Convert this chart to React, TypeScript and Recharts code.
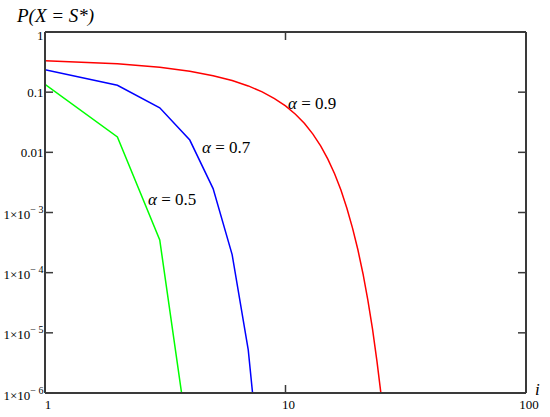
import React from "react";
import { LineChart, Line, XAxis, YAxis, Customized } from "recharts";

// step index i (log axis)
const steps = [1, 2, 3, 4, 5, 6, 7, 8, 9, 10, 11, 12, 13, 14, 15, 16, 17, 18, 19, 20, 21, 22, 23, 24, 25];

// P(X = S*)
const alpha09 = [
  0.333, 0.297, 0.26, 0.223, 0.188, 0.156, 0.127, 0.101, 0.0782, 0.0593, 0.043, 0.0301, 0.0201,
  0.0128, 7.7e-3, 4.4e-3, 2.36e-3, 1.18e-3, 5.5e-4, 2.4e-4, 9.6e-5, 3.5e-5, 1.16e-5, 3.4e-6, 9.0e-7,
];
const alpha07 = [0.236, 0.13, 0.055, 0.016, 2.5e-3, 2.0e-4, 5.2e-6, 2.5e-8];
const alpha05 = [0.135, 0.018, 3.5e-4, 1.1e-7];

const xTicks = [1, 10, 100];
const xTickLabels = ["1", "10", "100"];
const yTicks = [1e-6, 1e-5, 1e-4, 1e-3, 0.01, 0.1, 1];
const yTickLabels: [string, string][] = [
  ["1×10", "− 6"],
  ["1×10", "− 5"],
  ["1×10", "− 4"],
  ["1×10", "− 3"],
  ["0.01", ""],
  ["0.1", ""],
  ["1", ""],
];

const seriesNames = ["0.9", "0.7", "0.5"];

const AXIS = "#3a3a3a";
const FONT = "'Liberation Serif', 'Times New Roman', Times, serif";

const toPoints = (vals: number[]) => vals.map((p, k) => ({ i: steps[k], p }));

const LeftTick = (props: any) => {
  const { x, y, payload } = props;
  const idx = yTicks.indexOf(payload.value);
  const [main, sup] = yTickLabels[idx] || [String(payload.value), ""];
  const dy = payload.value === 1 ? 7.5 : sup ? 6.5 : 4.5;
  return (
    <g>
      <line x1={x} y1={y} x2={x + 8} y2={y} stroke={AXIS} strokeWidth={1.5} />
      <text x={x - 1.5} y={y + dy} textAnchor="end" style={{ fontFamily: FONT, fontSize: 13 }} fill="#000">
        {main}
        {sup ? (
          <tspan dy={-6} style={{ fontSize: 10 }}>
            {sup}
          </tspan>
        ) : null}
      </text>
    </g>
  );
};

const RightTick = (props: any) => {
  const { x, y } = props;
  return <line x1={x} y1={y} x2={x - 8} y2={y} stroke={AXIS} strokeWidth={1.5} />;
};

const BottomTick = (props: any) => {
  const { x, y, payload } = props;
  const idx = xTicks.indexOf(payload.value);
  return (
    <g>
      <line x1={x} y1={y} x2={x} y2={y - 8} stroke={AXIS} strokeWidth={1.5} />
      <text x={x + 3} y={y + 16} textAnchor="middle" style={{ fontFamily: FONT, fontSize: 13 }} fill="#000">
        {xTickLabels[idx]}
      </text>
    </g>
  );
};

const TopTick = (props: any) => {
  const { x, y } = props;
  return <line x1={x} y1={y} x2={x} y2={y + 8} stroke={AXIS} strokeWidth={1.5} />;
};

const Annotations = () => (
  <g style={{ fontFamily: FONT }} fill="#000">
    <text x={17} y={22} style={{ fontSize: 19, fontStyle: "italic", fontFamily: FONT }}>
      P(X = S*)
    </text>
    <text x={535} y={395} style={{ fontSize: 17, fontStyle: "italic", fontFamily: FONT }}>
      i
    </text>
    <text x={288} y={108.5} style={{ fontSize: 17, fontFamily: FONT }}>
      <tspan style={{ fontStyle: "italic" }}>α</tspan> = {seriesNames[0]}
    </text>
    <text x={202} y={152.5} style={{ fontSize: 17, fontFamily: FONT }}>
      <tspan style={{ fontStyle: "italic" }}>α</tspan> = {seriesNames[1]}
    </text>
    <text x={148} y={205} style={{ fontSize: 17, fontFamily: FONT }}>
      <tspan style={{ fontStyle: "italic" }}>α</tspan> = {seriesNames[2]}
    </text>
  </g>
);

export default function App() {
  return (
    <div style={{ width: 550, height: 417, background: "#fff" }}>
      <style>{`body { margin: 0; }`}</style>
      <LineChart width={550} height={417} margin={{ top: 31, right: 23, bottom: 0, left: 0 }}>
        <XAxis
          dataKey="i"
          type="number"
          scale="log"
          domain={[1, 100]}
          allowDataOverflow
          ticks={xTicks}
          interval={0}
          height={24}
          tickSize={0}
          tickMargin={0}
          tick={<BottomTick />}
          axisLine={{ stroke: AXIS, strokeWidth: 2 }}
          tickLine={false}
        />
        <XAxis
          xAxisId="top"
          orientation="top"
          dataKey="i"
          type="number"
          scale="log"
          domain={[1, 100]}
          allowDataOverflow
          ticks={xTicks}
          interval={0}
          height={1}
          tickSize={0}
          tickMargin={0}
          tick={<TopTick />}
          axisLine={{ stroke: AXIS, strokeWidth: 2 }}
          tickLine={false}
        />
        <YAxis
          type="number"
          scale="log"
          domain={[1e-6, 1]}
          allowDataOverflow
          ticks={yTicks}
          interval={0}
          width={45}
          tickSize={0}
          tickMargin={0}
          tick={<LeftTick />}
          axisLine={{ stroke: AXIS, strokeWidth: 2 }}
          tickLine={false}
        />
        <YAxis
          yAxisId="right"
          orientation="right"
          type="number"
          scale="log"
          domain={[1e-6, 1]}
          allowDataOverflow
          ticks={yTicks}
          interval={0}
          width={1}
          tickSize={0}
          tickMargin={0}
          tick={<RightTick />}
          axisLine={{ stroke: AXIS, strokeWidth: 2 }}
          tickLine={false}
        />
        <Line
          data={toPoints(alpha09)}
          dataKey="p"
          type="linear"
          stroke="#ff0000"
          strokeWidth={1.5}
          dot={false}
          isAnimationActive={false}
        />
        <Line
          data={toPoints(alpha07)}
          dataKey="p"
          type="linear"
          stroke="#0000ff"
          strokeWidth={1.5}
          dot={false}
          isAnimationActive={false}
        />
        <Line
          data={toPoints(alpha05)}
          dataKey="p"
          type="linear"
          stroke="#00ff00"
          strokeWidth={1.5}
          dot={false}
          isAnimationActive={false}
        />
        <Customized component={Annotations} />
      </LineChart>
    </div>
  );
}
